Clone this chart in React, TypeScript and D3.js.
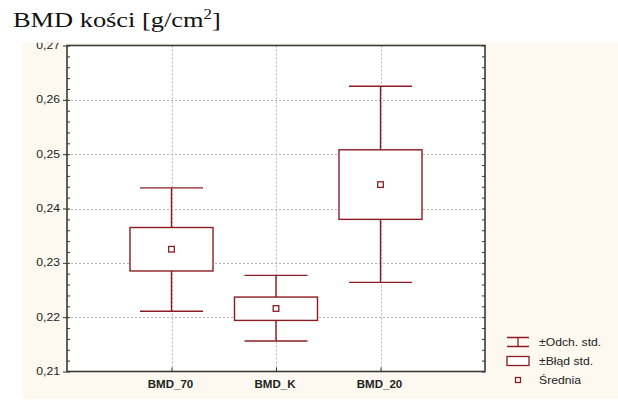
import React, { useRef, useEffect } from "react";
import * as d3 from "d3";

// values
const categories = ["BMD_70", "BMD_K", "BMD_20"];
const means = [0.2325, 0.2216, 0.2444];
const seLow = [0.2285, 0.2194, 0.2380];
const seHigh = [0.2365, 0.2237, 0.2508];
const sdLow = [0.2211, 0.2156, 0.2264];
const sdHigh = [0.2438, 0.2277, 0.2625];
const yTicks = [0.21, 0.22, 0.23, 0.24, 0.25, 0.26, 0.27];
const legendLabels = ["±Odch. std.", "±Błąd std.", "Średnia"];

const RED = "#8b1c24";
const SANS = "'Liberation Sans', Arial, sans-serif";
const SX = 1.22;

const App = () => {
    const ref = useRef<HTMLDivElement>(null);

    useEffect(() => {
        const width = 618;
        const height = 400;
        const left = 67, right = 485, top = 45.5, bottom = 371.5;

        if (!ref.current) return;
        ref.current.innerHTML = "";

        const svg = d3
            .select(ref.current)
            .append("svg")
            .attr("width", width)
            .attr("height", height)
            .style("display", "block");

        const y = d3.scaleLinear().domain([0.21, 0.27]).range([bottom, top]);
        const x = d3.scalePoint<string>().domain(categories).range([left, right]).padding(1);
        const pl = d3.formatLocale({ decimal: ",", thousands: " ", grouping: [3], currency: ["", ""] });
        const fmt = pl.format(".2f");

        svg.append("rect").attr("width", width).attr("height", height).attr("fill", "#fff");

        // title
        const title = svg
            .append("text")
            .attr("transform", "translate(13,27) scale(1.2,1)")
            .attr("font-family", "'Liberation Serif', 'Times New Roman', serif")
            .attr("font-size", 22)
            .attr("fill", "#111");
        title.append("tspan").text("BMD kości [g/cm");
        title.append("tspan").attr("font-size", 14).attr("dy", -8).text("2");
        title.append("tspan").attr("dy", 8).text("]");

        svg.append("defs")
            .append("clipPath")
            .attr("id", "panelClip")
            .append("rect")
            .attr("x", 22).attr("y", 42.7).attr("width", 596).attr("height", 356);

        const panel = svg.append("g").attr("clip-path", "url(#panelClip)");
        panel.append("rect")
            .attr("x", 22).attr("y", 42.7).attr("width", 596).attr("height", 356)
            .attr("fill", "#fdf9f0");

        panel.append("rect")
            .attr("x", left).attr("y", top)
            .attr("width", right - left).attr("height", bottom - top)
            .attr("fill", "#fff");

        // grid
        panel.append("g")
            .selectAll("line")
            .data(yTicks.slice(1, -1))
            .enter()
            .append("line")
            .attr("x1", left).attr("x2", right)
            .attr("y1", d => Math.round(y(d)) + 0.5).attr("y2", d => Math.round(y(d)) + 0.5)
            .attr("stroke", "#b4b4b4").attr("stroke-dasharray", "2,2");
        panel.append("g")
            .selectAll("line")
            .data(categories)
            .enter()
            .append("line")
            .attr("x1", d => Math.round(x(d)!) + 0.5).attr("x2", d => Math.round(x(d)!) + 0.5)
            .attr("y1", top).attr("y2", bottom)
            .attr("stroke", "#b4b4b4").attr("stroke-dasharray", "2,2");

        // ticks
        const minor = y.ticks(30);
        const leftMinor = panel.append("g").attr("transform", `translate(${left},0)`)
            .call(d3.axisRight(y).tickValues(minor).tickSize(3).tickFormat(() => ""));
        const leftMajor = panel.append("g").attr("transform", `translate(${left},0)`)
            .call(d3.axisLeft(y).tickValues(yTicks).tickSize(4).tickFormat(() => ""));
        const rightMinor = panel.append("g").attr("transform", `translate(${right},0)`)
            .call(d3.axisLeft(y).tickValues(minor).tickSize(3).tickFormat(() => ""));
        const bottomTicks = panel.append("g").attr("transform", `translate(0,${bottom})`)
            .call(d3.axisBottom(x).tickSize(-4).tickFormat(() => ""));
        [leftMinor, leftMajor, rightMinor, bottomTicks].forEach(g => {
            g.select(".domain").remove();
            g.selectAll("line").attr("stroke", "#333");
        });

        // y labels
        panel.append("g")
            .selectAll("text")
            .data(yTicks)
            .enter()
            .append("text")
            .attr("transform", d => `translate(60,${y(d) + 3.6}) scale(${SX},1)`)
            .attr("text-anchor", "end")
            .attr("font-family", SANS)
            .attr("font-size", 10)
            .attr("fill", "#222")
            .text(d => fmt(d));

        // x labels
        panel.append("g")
            .selectAll("text")
            .data(categories)
            .enter()
            .append("text")
            .attr("transform", d => `translate(${x(d)! - 1},388) scale(1.05,1)`)
            .attr("text-anchor", "middle")
            .attr("font-family", SANS)
            .attr("font-size", 11)
            .attr("font-weight", "bold")
            .attr("fill", "#222")
            .text(d => d);

        // frame
        panel.append("rect")
            .attr("x", left).attr("y", top)
            .attr("width", right - left).attr("height", bottom - top)
            .attr("fill", "none").attr("stroke", "#3a3a3a").attr("stroke-width", 1.6);

        // boxes
        const boxHalf = 41.5;
        const capHalf = 31.5;
        const groups = panel.append("g")
            .selectAll("g")
            .data(categories)
            .enter()
            .append("g");

        groups.append("line")
            .attr("x1", d => x(d)!).attr("x2", d => x(d)!)
            .attr("y1", (d, i) => y(sdHigh[i])).attr("y2", (d, i) => y(sdLow[i]))
            .attr("stroke", RED).attr("stroke-width", 1.4);
        groups.append("line")
            .attr("x1", d => x(d)! - capHalf).attr("x2", d => x(d)! + capHalf)
            .attr("y1", (d, i) => y(sdHigh[i])).attr("y2", (d, i) => y(sdHigh[i]))
            .attr("stroke", RED).attr("stroke-width", 1.4);
        groups.append("line")
            .attr("x1", d => x(d)! - capHalf).attr("x2", d => x(d)! + capHalf)
            .attr("y1", (d, i) => y(sdLow[i])).attr("y2", (d, i) => y(sdLow[i]))
            .attr("stroke", RED).attr("stroke-width", 1.4);
        groups.append("rect")
            .attr("x", d => x(d)! - boxHalf)
            .attr("y", (d, i) => y(seHigh[i]))
            .attr("width", boxHalf * 2)
            .attr("height", (d, i) => y(seLow[i]) - y(seHigh[i]))
            .attr("fill", "#fff").attr("stroke", RED).attr("stroke-width", 1.4);
        groups.append("rect")
            .attr("x", d => x(d)! - 2.8)
            .attr("y", (d, i) => y(means[i]) - 2.8)
            .attr("width", 5.6).attr("height", 5.6)
            .attr("fill", "#fff").attr("stroke", RED).attr("stroke-width", 1.3);

        // legend
        const lx = 507, lw = 22, rows = [342, 361, 380];
        const legend = panel.append("g");
        legend.append("line").attr("x1", lx).attr("x2", lx + lw).attr("y1", rows[0] - 4.5).attr("y2", rows[0] - 4.5)
            .attr("stroke", RED).attr("stroke-width", 1.3);
        legend.append("line").attr("x1", lx).attr("x2", lx + lw).attr("y1", rows[0] + 4.5).attr("y2", rows[0] + 4.5)
            .attr("stroke", RED).attr("stroke-width", 1.3);
        legend.append("line").attr("x1", lx + lw / 2).attr("x2", lx + lw / 2).attr("y1", rows[0] - 4.5).attr("y2", rows[0] + 4.5)
            .attr("stroke", RED).attr("stroke-width", 1.3);
        legend.append("rect").attr("x", lx).attr("y", rows[1] - 4.5).attr("width", lw).attr("height", 9)
            .attr("fill", "#fff").attr("stroke", RED).attr("stroke-width", 1.3);
        legend.append("rect").attr("x", lx + lw / 2 - 2.5).attr("y", rows[2] - 2.5).attr("width", 5).attr("height", 5)
            .attr("fill", "#fff").attr("stroke", RED).attr("stroke-width", 1.3);
        legend.selectAll("text")
            .data(legendLabels)
            .enter()
            .append("text")
            .attr("transform", (d, i) => `translate(539,${rows[i] + 3.5}) scale(${SX},1)`)
            .attr("font-family", SANS)
            .attr("font-size", 10)
            .attr("fill", "#222")
            .text(d => d);
    }, []);

    return <div ref={ref} style={{ position: "fixed", left: 0, top: 0 }}></div>;
};

export default App;
